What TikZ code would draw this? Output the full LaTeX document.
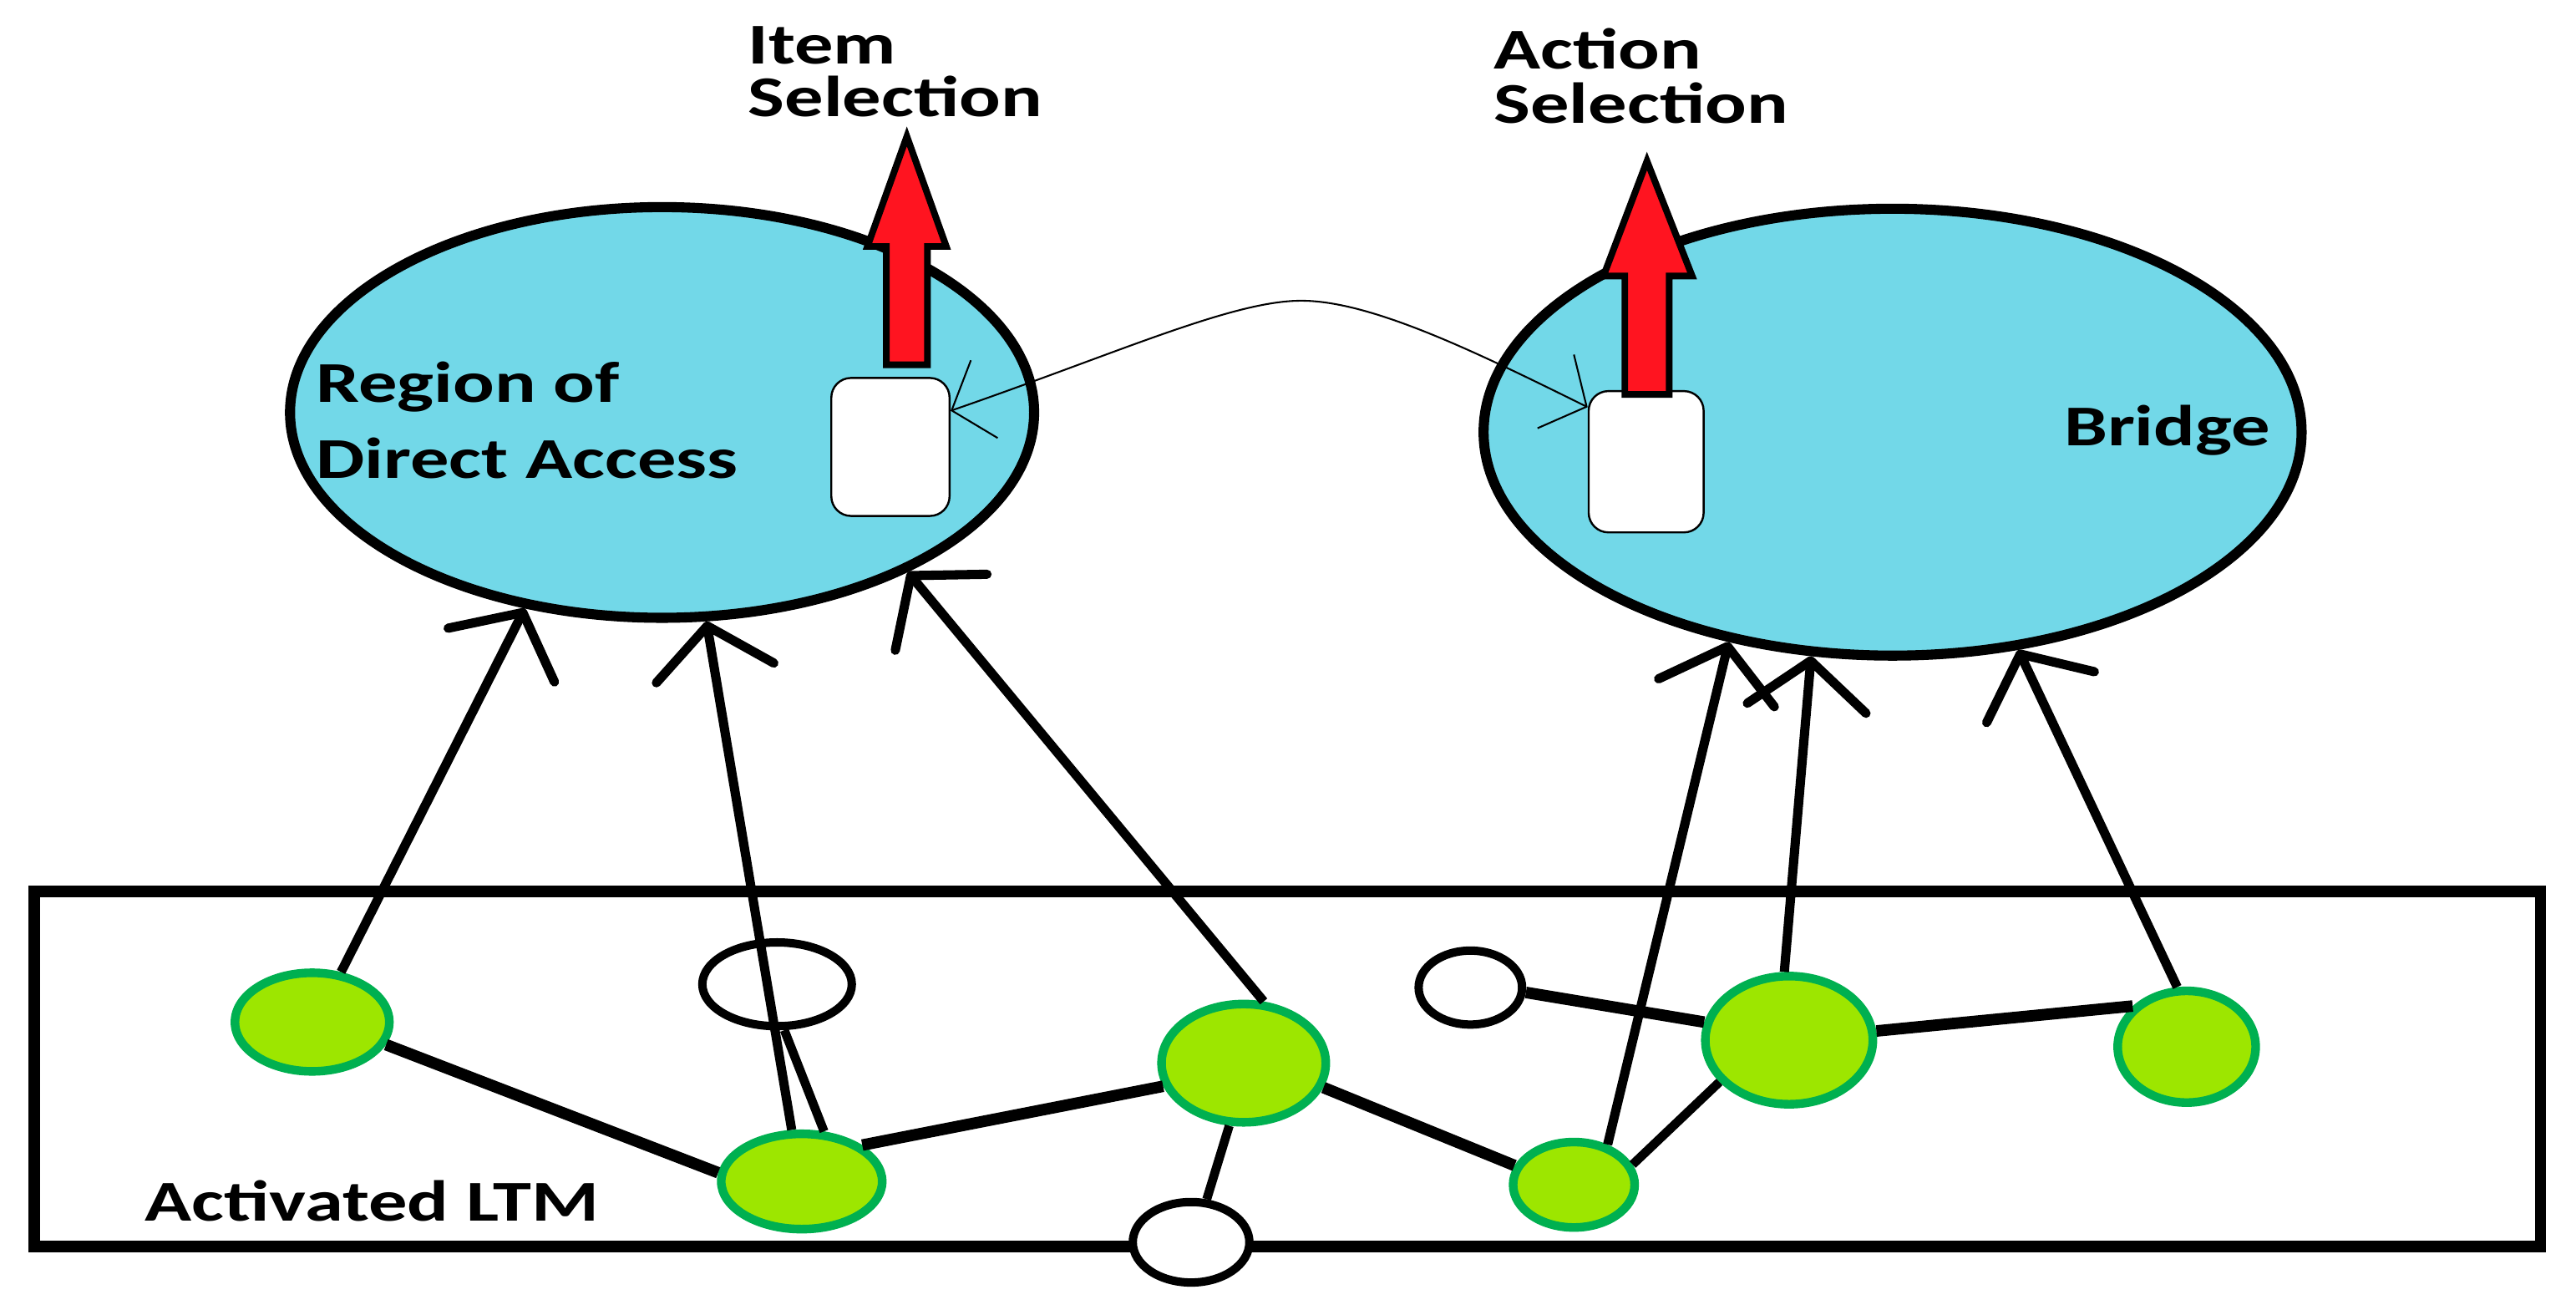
\documentclass[tikz,border=0pt]{standalone}
\usepackage{fontspec}
\setmainfont{Carlito}[FakeStretch=1.34]
\usetikzlibrary{shapes.geometric, arrows.meta}
\definecolor{skyfill}{RGB}{114,216,232}
\definecolor{redfill}{RGB}{255,20,32}
\definecolor{leaf}{RGB}{157,230,0}
\definecolor{leafedge}{RGB}{0,176,80}
\begin{document}
\begin{tikzpicture}[x=0.02cm, y=-0.02cm,
  bigoval/.style={ellipse, draw=black, line width=3.5pt, fill=skyfill, inner sep=0pt},
  leafnode/.style={ellipse, draw=leafedge, fill=leaf, line width=3pt, inner sep=0pt},
  opennode/.style={ellipse, draw=black, fill=white, line width=2.9pt, inner sep=0pt},
  slot/.style={rectangle, rounded corners=0.24cm, draw=black, line width=0.7pt, fill=white, inner sep=0pt},
  ltmbox/.style={rectangle, draw=black, line width=4pt, inner sep=0pt},
  lbl/.style={font=\fontsize{20pt}{24pt}\selectfont\bfseries, inner sep=0pt, anchor=base west},
  link/.style={line width=3.1pt},
  thicklink/.style={line width=4pt},
  feed/.style={line width=3.2pt, -{Straight Barb[length=5.8mm, width=14.5mm, round]}},
  outarrow/.style={draw=black, fill=redfill, line width=2.3pt, line join=miter},
  bridgecurve/.style={line width=0.6pt, {Straight Barb[length=4.2mm,width=10mm]}-{Straight Barb[length=4.2mm,width=10mm]}}
]
\useasboundingbox (0,0) rectangle (1568,797);
\fill[white] (0,0) rectangle (1568,797);

% container
\node[ltmbox, minimum width=30.52cm, minimum height=4.32cm] (ltm) at (783.5,650.5) {};

% big regions
\node[bigoval, minimum width=9.06cm, minimum height=5.0cm] (rda) at (403,251) {};
\node[bigoval, minimum width=9.96cm, minimum height=5.44cm] (bridge) at (1152,263) {};

% slots
\node[slot, minimum width=1.44cm, minimum height=1.68cm] (lslot) at (542,272) {};
\node[slot, minimum width=1.40cm, minimum height=1.72cm] (rslot) at (1002,281) {};

% red output arrows
\draw[outarrow] (539.5,222) -- (539.5,150) -- (528,150) -- (552,83) -- (576,150) -- (564.5,150) -- (564.5,222) -- cycle;
\draw[outarrow] (989,240) -- (989,168) -- (976,168) -- (1002.5,98) -- (1030,168) -- (1016,168) -- (1016,240) -- cycle;

% thin curve between slots
\draw[bridgecurve] (lslot.31) .. controls (680,215) and (750,183) .. (792,183) .. controls (835,183) and (900,215) .. (rslot.137.6);

% labels
\node[lbl] (t1) at (455,39) {Item};
\node[lbl] (t2) at (455,71) {Selection};
\node[lbl] (t3) at (909,42) {Action};
\node[lbl] (t4) at (909,75) {Selection};
\node[lbl] (t5) at (192,245) {Region of};
\node[lbl] (t6) at (192,291) {Direct Access};
\node[lbl] (t7) at (1256,271) {Bridge};
\node[lbl] (t8) at (88,743) {Activated LTM};

% LTM nodes
\node[leafnode, minimum width=1.88cm, minimum height=1.2cm] (g1) at (190,622) {};
\node[leafnode, minimum width=1.96cm, minimum height=1.16cm] (g2) at (488,719) {};
\node[leafnode, minimum width=2.0cm, minimum height=1.44cm] (g3) at (757,647) {};
\node[leafnode, minimum width=2.04cm, minimum height=1.56cm] (g4) at (1089,633) {};
\node[leafnode, minimum width=1.68cm, minimum height=1.36cm] (g5) at (1331,637) {};
\node[leafnode, minimum width=1.48cm, minimum height=1.04cm] (g6) at (958,721) {};
\node[opennode, minimum width=1.82cm, minimum height=1.02cm] (o1) at (473,599) {};
\node[opennode, minimum width=1.42cm, minimum height=0.98cm] (o2) at (725,756) {};
\node[opennode, minimum width=1.26cm, minimum height=0.9cm] (o3) at (895,601) {};

% links
\draw[thicklink] (g1.-17.6) -- (g2.174);
\draw[link] (o1.-81.6) -- (g2.66);
\draw[thicklink] (g2.31.5) -- (g3.196.5);
\draw[link] (g3.-103.6) -- (o2.70.2);
\draw[thicklink] (g3.-17.8) -- (g6.162.8);
\draw[link] (g6.19) -- (g4.211);
\draw[thicklink] (o3.-5) -- (g4.168.7);
\draw[thicklink] (g4.6) -- (g5.143);

% feeds into regions
\draw[feed] (g1.60) -- (rda.235.9);
\draw[feed] (g2.101) -- (rda.282.4);
\draw[feed] (g3.72.6) -- (rda.327.7);
\draw[feed] (g6.50.4) -- (bridge.232.4);
\draw[feed] (g4.94) -- (bridge.250.7);
\draw[feed] (g5.99.8) -- (bridge.300);
\end{tikzpicture}
\end{document}
